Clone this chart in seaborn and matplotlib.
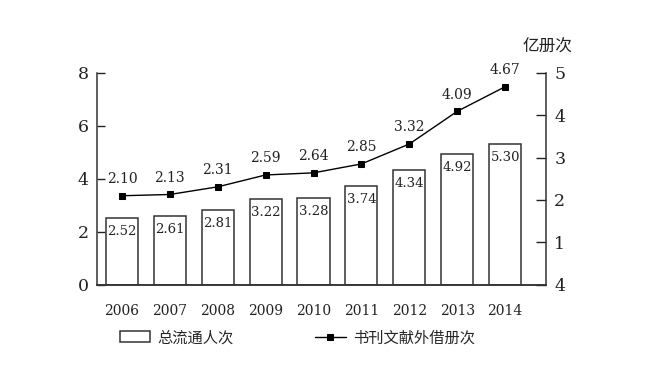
import numpy as np
import pandas as pd
import seaborn as sns
import matplotlib.pyplot as plt
sns.set_theme(style='white')
plt.rcParams['font.family'] = ['DejaVu Serif', 'Noto Sans CJK SC']

years = ['2006', '2007', '2008', '2009', '2010', '2011', '2012', '2013', '2014']
visits = [2.52, 2.61, 2.81, 3.22, 3.28, 3.74, 4.34, 4.92, 5.30]   # 总流通人次
loans = [2.10, 2.13, 2.31, 2.59, 2.64, 2.85, 3.32, 4.09, 4.67]    # 书刊文献外借册次
left_ticks = [0, 2, 4, 6, 8]
right_ticks = [0, 1, 2, 3, 4, 5]
right_tick_labels = ['4', '1', '2', '3', '4', '5']

df = pd.DataFrame({'year': years, 'visits': visits, 'loans': loans})

fig = plt.figure(figsize=(6.53, 3.69), dpi=100)
ax = fig.add_axes([0.1485, 0.228, 0.6875, 0.575])

sns.barplot(data=df, x='year', y='visits', ax=ax, width=0.67,
            color='white', edgecolor='#333333', linewidth=1.1, saturation=1,
            label='总流通人次')
ax.set_xlim(-0.52, 8.85)
ax.set_ylim(0, 8)
ax.set_yticks(left_ticks)
ax.set_xlabel(None)
ax.set_ylabel(None)

for i, v in enumerate(visits):
    ax.annotate(f'{v:.2f}', (i, v), xytext=(0, -5), textcoords='offset points',
                ha='center', va='top', fontsize=9.5, color='#222222')

ax2 = ax.twinx()
sns.pointplot(data=df, x='year', y='loans', ax=ax2, color='black',
              markers='s', linestyles='-', linewidth=1, markersize=5,
              label='书刊文献外借册次')
ax2.set_xlim(-0.52, 8.85)
ax2.set_ylim(0, 5)
ax2.set_yticks(right_ticks)
ax2.set_yticklabels(right_tick_labels)
ax2.set_ylabel(None)
ax2.set_xlabel(None)

for i, v in enumerate(loans):
    ax2.annotate(f'{v:.2f}', (i, v), xytext=(0, 7), textcoords='offset points',
                 ha='center', va='bottom', fontsize=10, color='#222222')

for a in (ax, ax2):
    a.spines['top'].set_visible(False)
    for s in a.spines.values():
        s.set_color('#333333')
        s.set_linewidth(1.1)
ax.spines['right'].set_visible(False)
ax2.spines['left'].set_visible(False)

ax.tick_params(axis='y', direction='in', length=6, width=1, labelsize=12.5,
               colors='#222222', pad=6)
ax.tick_params(axis='x', length=0, labelsize=10, colors='#222222', pad=14)
ax2.tick_params(axis='y', direction='in', length=7, width=1, labelsize=12.5,
                colors='#222222', pad=6)
ax2.grid(False)
ax.grid(False)

fig.text(0.839, 0.872, '亿册次', fontsize=12, family='Noto Sans CJK SC',
         color='#222222', ha='center', va='center')

h1, l1 = ax.get_legend_handles_labels()
h2, l2 = ax2.get_legend_handles_labels()
if ax2.get_legend() is not None:
    ax2.get_legend().remove()
if ax.get_legend() is not None:
    ax.get_legend().remove()
fig.legend(h1 + h2, l1 + l2, loc='center left', bbox_to_anchor=(0.162, 0.085),
           ncol=2, frameon=False, columnspacing=5.3, handlelength=2.0,
           handletextpad=0.5, prop={'family': 'Noto Sans CJK SC', 'size': 11})

plt.savefig('out.png', dpi=100)
